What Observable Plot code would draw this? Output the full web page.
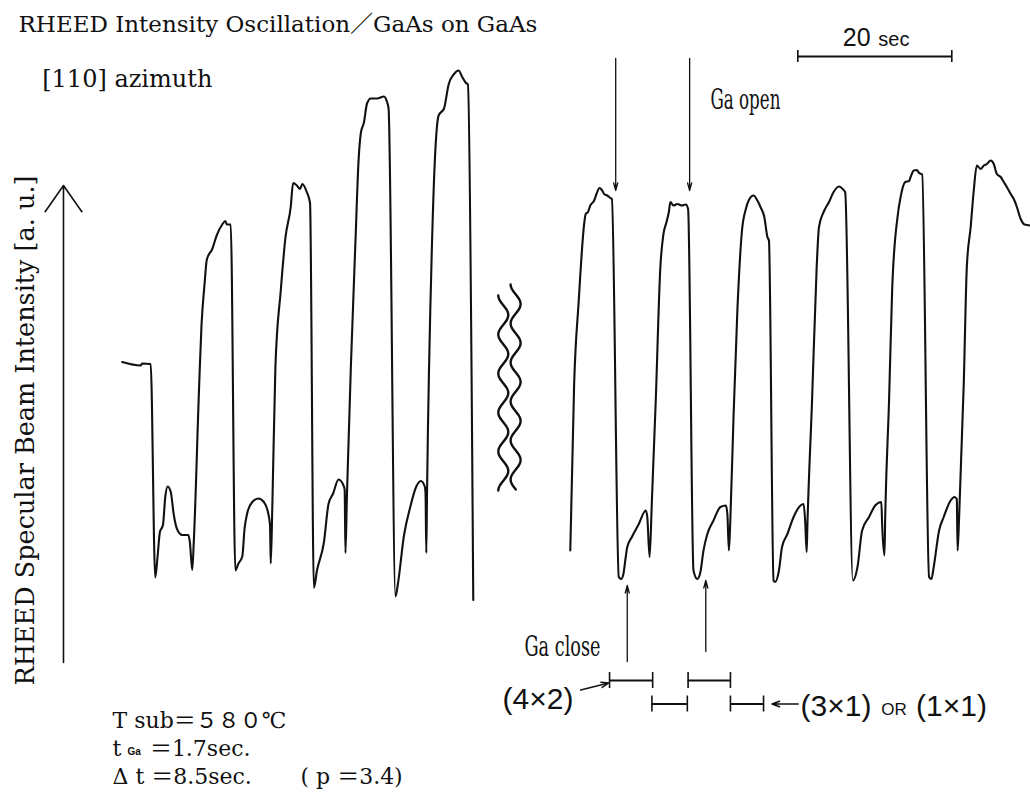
<!DOCTYPE html>
<html>
<head>
<meta charset="utf-8">
<script src="https://cdn.jsdelivr.net/npm/d3@7"></script>
<script src="https://cdn.jsdelivr.net/npm/@observablehq/plot@0.6"></script>
<style>
  body { margin: 0; background: #fff; }
  #chart svg { display: block; }
</style>
</head>
<body>
<div id="chart"></div>
<script>
// RHEED specular-beam intensity recorded on a chart recorder while growing
// GaAs on GaAs along the [110] azimuth. Time is chart time in seconds,
// intensity is in arbitrary units.

// Trace before the chart break: steady level, then growth starts.
const timeBefore = [
  15.8, 18.2, 18.4, 19.5, 20.1, 20.4, 20.7, 21.1, 21.4, 21.7,
  22.1, 22.5, 22.9, 23.6, 24.4, 24.6, 24.9, 25.1, 25.8, 26.1,
  26.5, 26.8, 27.5, 28.1, 28.8, 29.2, 29.4, 29.9, 30.5, 30.9,
  31.4, 31.7, 32.0, 32.7, 33.5, 34.2, 34.7, 35.0, 35.1, 35.3,
  35.7, 36.4, 37.0, 37.7, 38.0, 38.5, 38.9, 39.2, 39.8, 40.2,
  40.7, 41.1, 42.0, 42.6, 43.2, 43.9, 44.6, 44.7, 44.8, 45.0,
  45.5, 46.1, 46.5, 46.8, 47.2, 47.6, 48.1, 48.9, 49.8, 50.2,
  50.4, 51.3, 51.6, 52.4, 53.2, 54.0, 54.6, 55.1, 55.2, 55.3,
  55.4, 56.1, 56.9, 57.6, 58.2, 58.9, 59.5, 60.0, 60.4, 60.7, 61.4
];
const intensityBefore = [
  47.7, 47.0, 47.4, 47.3, 4.6, 8.8, 13.7, 15.1, 20.7, 22.8,
  21.8, 17.2, 14.4, 13.1, 13.1, 11.6, 6.1, 11.6, 43.0, 54.9,
  63.3, 68.2, 70.3, 73.1, 75.2, 75.9, 75.2, 75.2, 6.0, 7.4,
  8.8, 14.4, 17.2, 19.7, 20.4, 19.7, 17.9, 15.1, 7.4, 18.6,
  46.6, 62.0, 72.5, 78.8, 83.5, 83.0, 82.3, 83.3, 81.6, 79.5,
  2.5, 6.0, 11.6, 19.3, 21.4, 24.2, 22.8, 22.1, 9.5, 21.4,
  46.6, 71.8, 87.9, 93.5, 95.6, 99.4, 100.4, 100.4, 100.8, 99.7,
  98.4, 0.8, 3.2, 13.0, 18.6, 22.8, 23.9, 22.8, 21.4, 9.5,
  22.1, 74.6, 97.0, 98.4, 103.2, 105.3, 106.0, 104.6, 103.6, 103.2, 0.1
];

// Trace after the chart break: regular shutter cycling.
const timeAfter = [
  74.0, 74.5, 75.1, 75.8, 76.0, 76.3, 76.6, 77.1, 77.4, 77.8,
  78.1, 78.4, 78.8, 79.2, 79.4, 80.3, 80.6, 80.9, 81.2, 81.4,
  82.0, 82.9, 83.8, 84.0, 84.3, 84.6, 85.1, 85.7, 86.1, 86.5,
  86.8, 87.0, 87.4, 87.9, 88.5, 89.0, 89.3, 90.0, 90.5, 90.9,
  91.3, 91.8, 92.6, 93.5, 94.2, 94.4, 94.6, 94.8, 95.2, 95.7,
  96.3, 96.8, 97.2, 97.8, 98.3, 98.7, 99.2, 99.6, 99.8, 100.4,
  100.6, 101.1, 101.5, 102.2, 103.0, 103.9, 104.3, 104.5, 104.7, 104.8,
  105.4, 106.0, 106.3, 106.9, 107.6, 108.2, 108.9, 109.5, 109.7, 110.7,
  111.3, 111.9, 112.8, 113.6, 114.4, 114.5, 114.8, 114.9, 115.4, 115.8,
  116.5, 116.9, 117.5, 118.0, 118.2, 118.6, 119.0, 119.3, 119.7, 120.6,
  120.9, 121.2, 121.9, 122.5, 123.4, 123.9, 124.2, 124.3, 124.5, 125.1,
  125.5, 126.0, 126.4, 126.8, 127.3, 127.7, 128.1, 128.6, 129.0, 129.4,
  129.9, 130.3, 130.7, 131.2, 131.6, 132.0, 132.5, 133.0, 133.8
];
const intensityAfter = [
  10.0, 43.3, 60.0, 75.3, 77.3, 77.7, 79.0, 80.0, 81.3, 82.5,
  82.1, 81.3, 81.0, 80.5, 80.3, 4.7, 4.3, 5.3, 8.7, 10.7,
  12.7, 15.3, 18.0, 16.7, 8.7, 20.0, 40.0, 66.7, 73.3, 75.7,
  77.7, 79.7, 79.0, 79.3, 79.0, 79.2, 78.3, 6.0, 4.3, 5.7,
  10.0, 13.3, 16.0, 18.7, 19.0, 17.3, 10.0, 16.7, 36.7, 58.0,
  74.0, 78.3, 80.1, 81.0, 80.0, 78.7, 76.7, 72.7, 72.0, 4.0,
  3.7, 6.0, 10.7, 13.3, 16.7, 19.0, 19.3, 16.0, 9.7, 15.3,
  40.0, 66.7, 74.7, 77.7, 79.7, 81.7, 82.8, 82.1, 81.7, 4.0,
  6.7, 14.0, 16.7, 19.0, 19.7, 15.3, 9.0, 16.7, 40.0, 62.0,
  76.7, 80.7, 83.7, 83.9, 84.7, 86.0, 86.1, 85.5, 85.2, 4.7,
  4.3, 6.7, 14.0, 16.7, 20.0, 20.7, 20.3, 10.0, 16.7, 43.3,
  66.7, 74.7, 82.0, 87.0, 86.3, 87.0, 87.3, 88.0, 87.3, 85.3,
  84.7, 83.7, 82.7, 81.3, 80.3, 78.7, 76.3, 75.2, 75.0
];

// Shutter events (s)
const gaOpenTimes = [79.9, 89.5];
const gaCloseTimes = [81.4, 91.6];

// Surface reconstruction intervals (s)
const reconstruction = ["4×2", "3×1", "4×2", "3×1"];
const reconstructionStart = [79.1, 84.6, 89.3, 94.8];
const reconstructionEnd = [84.7, 89.2, 94.8, 99.1];

// Scale bar
const scaleBarSeconds = 20;
const scaleBarStart = 103.55;

// Texts
const titleText = "RHEED Intensity Oscillation／GaAs on GaAs";
const azimuthText = "[110] azimuth";
const yLabelText = "RHEED Specular Beam Intensity [a. u.]";
const conditionsText = ["T sub＝５８０℃", "＝1.7sec.", "Δ t ＝8.5sec.", "( p ＝3.4)"];

// ---------------------------------------------------------------------------
const traces = [
  ...timeBefore.map((t, i) => ({segment: "before", t, intensity: intensityBefore[i]})),
  ...timeAfter.map((t, i) => ({segment: "after", t, intensity: intensityAfter[i]}))
];

const intervals = reconstruction.map((kind, i) => ({
  kind, start: reconstructionStart[i], end: reconstructionEnd[i]
}));
const barLevel = {"4×2": -16.0, "3×1": -20.7};
const barEnds = intervals.flatMap(d => [
  {t: d.start, level: barLevel[d.kind]},
  {t: d.end, level: barLevel[d.kind]}
]);

// chart break symbol: two parallel wavy strokes
const breakCenters = [65.3, 66.9];
const breakTops = [61.0, 63.2];
const breakBottom = 22.0;
const breakWaves = breakCenters.flatMap((c, k) => {
  const pts = [];
  for (let v = breakTops[k]; v >= breakBottom; v -= 0.25) {
    pts.push({wave: k, t: c - 0.65 * Math.cos(2 * Math.PI * (breakTops[k] - v) / 7.8), v});
  }
  return pts;
});

const serif = "'DejaVu Serif', 'Noto Sans CJK JP', serif";
const sans = "'Liberation Sans', Arial, sans-serif";
const ink = "#111";

const chart = Plot.plot({
  width: 1030,
  height: 798,
  margin: 0,
  x: {domain: [0, 133.77], axis: null},
  y: {domain: [-39.6, 120], axis: null},
  style: {background: "#fff", color: ink},
  marks: [
    // intensity traces
    Plot.line(traces, {x: "t", y: "intensity", z: "segment", stroke: ink, strokeWidth: 2.1, strokeLinejoin: "round", curve: "monotone-x"}),

    // chart break
    Plot.line(breakWaves, {x: "t", y: "v", z: "wave", stroke: ink, strokeWidth: 2.4, curve: "basis"}),

    // intensity axis arrow
    Plot.arrow([0], {x1: 8.18, x2: 8.18, y1: -12.4, y2: 83, stroke: ink, strokeWidth: 1.6, headLength: 30, headAngle: 70}),
    Plot.text([yLabelText], {x: 4.29, y: 34, text: d => d, rotate: -90, textAnchor: "middle", lineAnchor: "bottom", fontFamily: serif, fontSize: 25.5, fill: ink}),

    // titles
    Plot.text([titleText], {x: 2.34, y: 113.8, text: d => d, textAnchor: "start", lineAnchor: "bottom", fontFamily: serif, fontSize: 23, fill: ink}),
    Plot.text([azimuthText], {x: 5.42, y: 102.8, text: d => d, textAnchor: "start", lineAnchor: "bottom", fontFamily: serif, fontSize: 24, fill: ink}),

    // scale bar
    Plot.ruleY([scaleBarStart], {y: 108.8, x1: d => d, x2: d => d + scaleBarSeconds, stroke: ink, strokeWidth: 2}),
    Plot.ruleX([scaleBarStart, scaleBarStart + scaleBarSeconds], {x: d => d, y1: 107.6, y2: 110.0, stroke: ink, strokeWidth: 1.6}),
    Plot.text(["20"], {x: 113.0, y: 111, text: d => d, textAnchor: "end", lineAnchor: "bottom", fontFamily: sans, fontSize: 25, fill: ink}),
    Plot.text(["sec"], {x: 114.0, y: 111, text: d => d, textAnchor: "start", lineAnchor: "bottom", fontFamily: sans, fontSize: 20, fill: ink}),

    // Ga shutter open
    Plot.arrow(gaOpenTimes, {x1: d => d, x2: d => d, y1: 108.4, y2: 82, stroke: ink, strokeWidth: 1.3, headLength: 9, headAngle: 30}),
    Plot.text(["Ga open"], {x: 92.2, y: 98.4, text: d => d, textAnchor: "start", lineAnchor: "bottom", fontFamily: serif, fontSize: 27, fill: ink}),

    // Ga shutter close
    Plot.arrow(gaCloseTimes, {x1: d => d, x2: d => d, y1: [-12.2, -10.2], y2: [3.0, 4.0], stroke: ink, strokeWidth: 1.3, headLength: 9, headAngle: 30}),
    Plot.text(["Ga close"], {x: 68.05, y: -11, text: d => d, textAnchor: "start", lineAnchor: "bottom", fontFamily: serif, fontSize: 28, fill: ink}),

    // reconstruction intervals
    Plot.ruleY(intervals, {y: d => barLevel[d.kind], x1: "start", x2: "end", stroke: ink, strokeWidth: 2}),
    Plot.ruleX(barEnds, {x: "t", y1: d => d.level - 1.6, y2: d => d.level + 1.6, stroke: ink, strokeWidth: 1.6}),
    Plot.text(["(4×2)"], {x: 65.2, y: -21.6, text: d => d, textAnchor: "start", lineAnchor: "bottom", fontFamily: sans, fontSize: 30, fill: ink}),
    Plot.arrow([0], {x1: 75.35, y1: -17.9, x2: 79.0, y2: -16.5, stroke: ink, strokeWidth: 1.5, headLength: 8, headAngle: 40}),
    Plot.text(["(3×1)"], {x: 103.9, y: -23, text: d => d, textAnchor: "start", lineAnchor: "bottom", fontFamily: sans, fontSize: 30, fill: ink}),
    Plot.text(["OR"], {x: 114.4, y: -22.8, text: d => d, textAnchor: "start", lineAnchor: "bottom", fontFamily: sans, fontSize: 17, fill: ink}),
    Plot.text(["(1×1)"], {x: 118.9, y: -23, text: d => d, textAnchor: "start", lineAnchor: "bottom", fontFamily: sans, fontSize: 30, fill: ink}),
    Plot.arrow([0], {x1: 103.6, y1: -20.7, x2: 100.2, y2: -20.7, stroke: ink, strokeWidth: 1.5, headLength: 8, headAngle: 40}),

    // growth conditions
    Plot.text([conditionsText[0]], {x: 14.55, y: -25.4, text: d => d, textAnchor: "start", lineAnchor: "bottom", fontFamily: serif, fontSize: 22, fill: ink}),
    Plot.text(["t"], {x: 14.55, y: -31, text: d => d, textAnchor: "start", lineAnchor: "bottom", fontFamily: serif, fontSize: 22, fill: ink}),
    Plot.text(["Ga"], {x: 16.5, y: -30.8, text: d => d, textAnchor: "start", lineAnchor: "bottom", fontFamily: sans, fontSize: 10, fontWeight: "bold", fill: ink}),
    Plot.text([conditionsText[1]], {x: 19.4, y: -31, text: d => d, textAnchor: "start", lineAnchor: "bottom", fontFamily: serif, fontSize: 22, fill: ink}),
    Plot.text([conditionsText[2]], {x: 14.55, y: -36.6, text: d => d, textAnchor: "start", lineAnchor: "bottom", fontFamily: serif, fontSize: 22, fill: ink}),
    Plot.text([conditionsText[3]], {x: 38.96, y: -36.6, text: d => d, textAnchor: "start", lineAnchor: "bottom", fontFamily: serif, fontSize: 22, fill: ink})
  ]
});

// condensed lettering for the shutter labels
const condensed = {"Ga open": 70, "Ga close": 76};
d3.select(chart).selectAll("text").each(function () {
  const w = condensed[this.textContent];
  if (w) {
    this.setAttribute("textLength", w);
    this.setAttribute("lengthAdjust", "spacingAndGlyphs");
  }
});

document.getElementById("chart").append(chart);
</script>
</body>
</html>
